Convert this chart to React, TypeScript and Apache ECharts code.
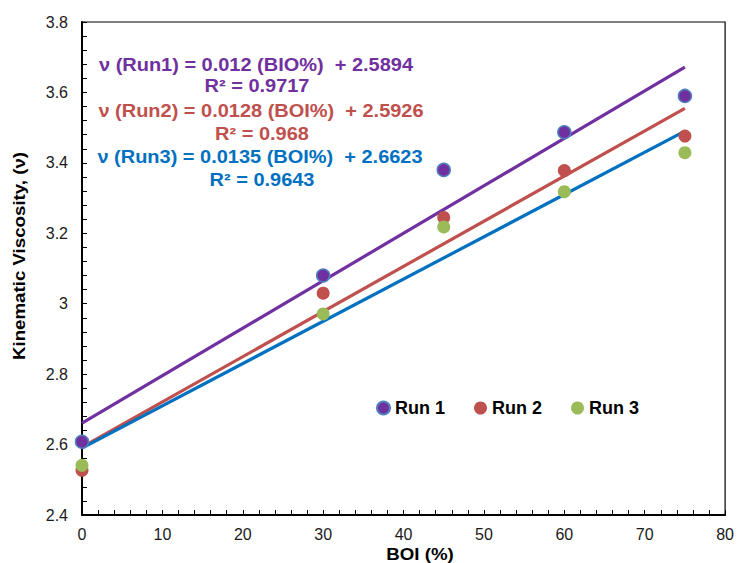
import React, { useEffect, useRef } from "react";
import * as echarts from "echarts";

const boi = [0, 30, 45, 60, 75];
const run1 = [2.608, 3.08, 3.38, 3.487, 3.59];
const run2 = [2.527, 3.03, 3.245, 3.378, 3.476];
const run3 = [2.541, 2.971, 3.218, 3.318, 3.429];

const trendX = [0, 75];
const trend1 = [2.661, 3.672];
const trend2 = [2.593, 3.555];
const trend3 = [2.59, 3.49];

const eqLabels = [
  "\u03bd (Run1) = 0.012 (BIO%)  + 2.5894",
  "R\u00b2 = 0.9717",
  "\u03bd (Run2) = 0.0128 (BOI%)  + 2.5926",
  "R\u00b2 = 0.968",
  "\u03bd (Run3) = 0.0135 (BOI%)  + 2.6623",
  "R\u00b2 = 0.9643",
];
const xTitle = "BOI (%)";
const yTitle = "Kinematic Viscosity, (\u03bd)";

const PURPLE = "#7030A0";
const RED = "#C0504D";
const BLUE = "#0070C0";
const GREEN = "#9BBB59";
const FONT = "Arial, 'Liberation Sans', sans-serif";

export default function App() {
  const ref = useRef<HTMLDivElement>(null);
  useEffect(() => {
    document.body.style.margin = "0";
    const chart = echarts.init(ref.current!, null, { renderer: "svg" });
    const pts = (ys: number[]) => boi.map((x, i) => [x, ys[i]]);
    const tl = (ys: number[]) => trendX.map((x, i) => [x, ys[i]]);
    const eqColors = [PURPLE, PURPLE, RED, RED, BLUE, BLUE];
    const eqY = [65, 86, 111, 134, 157, 180];
    const eqX = [256, 257, 261, 262, 260, 262];
    chart.setOption({
      animation: false,
      backgroundColor: "#fff",
      grid: {
        left: 82,
        right: 10,
        top: 22,
        bottom: 48,
        show: true,
        borderColor: "#000",
        borderWidth: 1.2,
      },
      legend: {
        left: 371,
        top: 394,
        itemWidth: 13,
        itemHeight: 13,
        itemGap: 29,
        icon: "circle",
        data: ["Run 1", "Run 2", "Run 3"],
        textStyle: {
          fontFamily: FONT,
          fontWeight: "bold",
          fontSize: 18,
          color: "#000",
        },
      },
      xAxis: {
        type: "value",
        min: 0,
        max: 80,
        interval: 10,
        axisLine: { show: true, lineStyle: { color: "#000", width: 2 } },
        axisTick: { show: true, inside: true, length: 5, lineStyle: { color: "#000" } },
        minorTick: { show: true, splitNumber: 5, length: 5, lineStyle: { color: "#000" } },
        splitLine: { show: false },
        axisLabel: {
          fontFamily: FONT,
          fontSize: 16,
          color: "#1a1a1a",
          margin: 11,
        },
      },
      yAxis: {
        type: "value",
        min: 2.4,
        max: 3.8,
        interval: 0.2,
        axisLine: { show: true, lineStyle: { color: "#000", width: 2 } },
        axisTick: { show: true, inside: true, length: 5, lineStyle: { color: "#000" } },
        minorTick: { show: true, splitNumber: 5, length: 5, lineStyle: { color: "#000" } },
        splitLine: { show: false },
        axisLabel: {
          fontFamily: FONT,
          fontSize: 16,
          color: "#1a1a1a",
          margin: 14,
          formatter: (v: number) => String(Math.round(v * 10) / 10),
        },
      },
      series: [
        {
          name: "trend1",
          type: "line",
          data: tl(trend1),
          symbol: "none",
          lineStyle: { color: PURPLE, width: 3.2 },
          z: 1,
          silent: true,
        },
        {
          name: "trend2",
          type: "line",
          data: tl(trend2),
          symbol: "none",
          lineStyle: { color: RED, width: 3.2 },
          z: 1,
          silent: true,
        },
        {
          name: "trend3",
          type: "line",
          data: tl(trend3),
          symbol: "none",
          lineStyle: { color: BLUE, width: 3.2 },
          z: 1,
          silent: true,
        },
        {
          name: "Run 1",
          type: "scatter",
          data: pts(run1),
          symbolSize: 13,
          itemStyle: { color: PURPLE, borderColor: "#4F81BD", borderWidth: 1.5, opacity: 1 },
          z: 3,
        },
        {
          name: "Run 2",
          type: "scatter",
          data: pts(run2),
          symbolSize: 13,
          itemStyle: { color: RED, opacity: 1 },
          z: 3,
        },
        {
          name: "Run 3",
          type: "scatter",
          data: pts(run3),
          symbolSize: 13,
          itemStyle: { color: GREEN, opacity: 1 },
          z: 3,
        },
      ],
      graphic: [
        ...eqLabels.map((t, i) => ({
          type: "text",
          x: eqX[i],
          y: eqY[i],
          scaleX: 1.11,
          z: 10,
          style: {
            text: t,
            fill: eqColors[i],
            font: `bold 18px ${FONT}`,
            textAlign: "center",
            textVerticalAlign: "middle",
          },
        })),
        {
          type: "text",
          x: 420,
          y: 554,
          scaleX: 1.1,
          z: 10,
          style: {
            text: xTitle,
            fill: "#000",
            font: `bold 17px ${FONT}`,
            textAlign: "center",
            textVerticalAlign: "middle",
          },
        },
        {
          type: "text",
          x: 19,
          y: 256,
          rotation: Math.PI / 2,
          scaleX: 1.1,
          z: 10,
          style: {
            text: yTitle,
            fill: "#000",
            font: `bold 17px ${FONT}`,
            textAlign: "center",
            textVerticalAlign: "middle",
          },
        },
      ],
    });
    return () => chart.dispose();
  }, []);
  return <div ref={ref} style={{ width: 737, height: 563 }} />;
}
